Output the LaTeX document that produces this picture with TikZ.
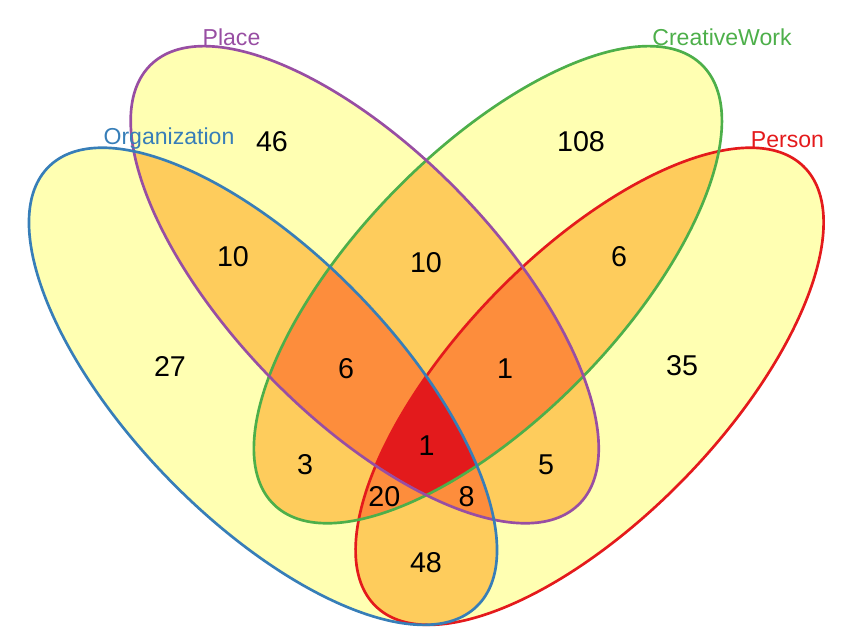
\documentclass[tikz,border=0pt]{standalone}
\usepackage{fontspec}
\setmainfont{Liberation Sans}
\definecolor{cOne}{HTML}{FFFFB2}
\definecolor{cTwo}{HTML}{FECC5C}
\definecolor{cThree}{HTML}{FD8D3C}
\definecolor{cFour}{HTML}{E31A1C}
\definecolor{lOrg}{HTML}{377EB8}
\definecolor{lPla}{HTML}{984EA3}
\definecolor{lCre}{HTML}{4DAF4A}
\definecolor{lPer}{HTML}{E41A1C}
\newcommand\EOrg[1]{\path[#1,rotate around={-45.8:(263,386.3)}] (263,386.3) ellipse [x radius=306.8,y radius=132.3];}
\newcommand\EPla[1]{\path[#1,rotate around={-45.8:(364.7,284.7)}] (364.7,284.7) ellipse [x radius=306.8,y radius=132.3];}
\newcommand\ECre[1]{\path[#1,rotate around={45.8:(487.9,284.7)}] (487.9,284.7) ellipse [x radius=306.8,y radius=132.3];}
\newcommand\EPer[1]{\path[#1,rotate around={45.8:(589.6,386.3)}] (589.6,386.3) ellipse [x radius=306.8,y radius=132.3];}
\tikzset{
  setlabel/.style={font=\fontsize{17.3}{20}\selectfont, inner sep=0pt},
  count/.style={font=\fontsize{21.5}{24}\selectfont, inner sep=0pt, text=black},
  outline/.style={line width=2pt}
}
\begin{document}
\begin{tikzpicture}[x=0.75pt,y=-0.75pt]
\useasboundingbox (0,0) rectangle (854,638);
% single sets
\EOrg{fill=cOne}\EPla{fill=cOne}\ECre{fill=cOne}\EPer{fill=cOne}
% pairs
\begin{scope}\EOrg{clip}\EPla{fill=cTwo}\end{scope}
\begin{scope}\EOrg{clip}\ECre{fill=cTwo}\end{scope}
\begin{scope}\EOrg{clip}\EPer{fill=cTwo}\end{scope}
\begin{scope}\EPla{clip}\ECre{fill=cTwo}\end{scope}
\begin{scope}\EPla{clip}\EPer{fill=cTwo}\end{scope}
\begin{scope}\ECre{clip}\EPer{fill=cTwo}\end{scope}
% triples
\begin{scope}\EOrg{clip}\EPla{clip}\ECre{fill=cThree}\end{scope}
\begin{scope}\EOrg{clip}\EPla{clip}\EPer{fill=cThree}\end{scope}
\begin{scope}\EOrg{clip}\ECre{clip}\EPer{fill=cThree}\end{scope}
\begin{scope}\EPla{clip}\ECre{clip}\EPer{fill=cThree}\end{scope}
% all four
\begin{scope}\EOrg{clip}\EPla{clip}\ECre{clip}\EPer{fill=cFour}\end{scope}
% outlines
\EPer{draw=lPer,outline}
\ECre{draw=lCre,outline}
\EPla{draw=lPla,outline}
\EOrg{draw=lOrg,outline}
% set labels
\node[setlabel,text=lOrg] (tOrg) at (169,139) {Organization};
\node[setlabel,text=lPla] (tPla) at (231.5,37.5) {Place};
\node[setlabel,text=lCre] (tCre) at (722,37.5) {CreativeWork};
\node[setlabel,text=lPer] (tPer) at (787.5,139.5) {Person};
% counts
\node[count] (n46) at (272,142) {46};
\node[count] (n108) at (581,142) {108};
\node[count] (n10a) at (233,257) {10};
\node[count] (n10b) at (426,263) {10};
\node[count] (n6a) at (619,257) {6};
\node[count] (n27) at (170,366) {27};
\node[count] (n6b) at (346,369) {6};
\node[count] (n1a) at (505,369) {1};
\node[count] (n35) at (682,366) {35};
\node[count] (n1b) at (426.5,446) {1};
\node[count] (n3) at (305,465) {3};
\node[count] (n5) at (546,465) {5};
\node[count] (n20) at (384.3,496.5) {20};
\node[count] (n8) at (466.7,496.5) {8};
\node[count] (n48) at (426,563) {48};
\end{tikzpicture}
\end{document}
